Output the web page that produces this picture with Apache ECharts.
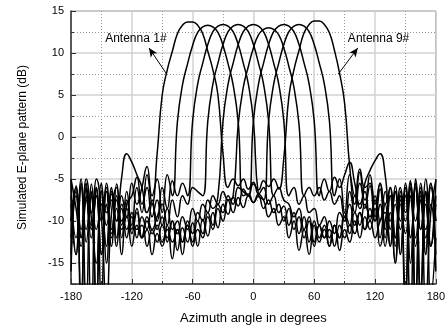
<!DOCTYPE html>
<html>
<head>
<meta charset="utf-8">
<script src="https://cdn.jsdelivr.net/npm/echarts@6/dist/echarts.min.js"></script>
<style>
  html, body { margin: 0; padding: 0; background: #fff; }
  #chart { width: 448px; height: 330px; }
</style>
</head>
<body>
<div id="chart"></div>
<script>
// azimuth sample points (degrees)
const angles = [
  -180, -175, -170, -165, -160, -155, -150, -145, -140, -135,
  -130, -125, -120, -115, -110, -105, -100, -95, -90, -85,
  -80, -75, -70, -65, -60, -55, -50, -45, -40, -35,
  -30, -25, -20, -15, -10, -5, 0, 5, 10, 15,
  20, 25, 30, 35, 40, 45, 50, 55, 60, 65,
  70, 75, 80, 85, 90, 95, 100, 105, 110, 115,
  120, 125, 130, 135, 140, 145, 150, 155, 160, 165,
  170, 175, 180
];

// simulated E-plane pattern (dB), one array per antenna
const ant1 = [
  -5.0, -8.5, -13, -7.5, -11, -6.0, -19, -8.0, -11.5, -7.0,
  -12, -6.5, -10.5, -6.0, -9.0, -4.5, -8.0, -2.0, 5.0, 8.0,
  10.2, 12.3, 13.3, 13.7, 13.7, 13.3, 12.3, 10.2, 8.0, 5.0,
  -2.0, -6.0, -5.0, -5.8, -5.0, -6.2, -5.4, -6.8, -6.0, -8.0,
  -7.0, -9.0, -8.2, -10.5, -9.0, -11.5, -9.5, -12.5, -10.0, -12.0,
  -10.5, -13.0, -10.5, -12.0, -9.0, -10.5, -7.0, -8.5, -5.5, -4.0,
  -2.8, -2.0, -4.5, -10, -6.5, -14, -6.0, -21, -5.5, -11,
  -5.0, -13, -5.0
];
const ant2 = [
  -10.0, -6.0, -12, -5.0, -9.5, -15, -6.5, -10.5, -7.5, -12,
  -7.0, -9.5, -5.5, -8.0, -6.0, -3.5, -7.0, -5.0, -9.0, -4.5,
  -7.0, 1.8, 6.2, 8.7, 10.9, 12.45, 13.1, 13.3, 13.1, 12.45,
  10.9, 8.7, 6.2, 1.8, -7.0, -6.8, -7.8, -7.0, -8.5, -7.5,
  -9.0, -8.0, -10.0, -8.5, -11.0, -9.5, -12.0, -10.0, -13.0, -10.5,
  -12.0, -10.0, -11.5, -9.0, -10.0, -6.5, -9.0, -5.5, -7.5, -4.5,
  -8.0, -5.5, -11, -6.0, -13, -6.5, -20, -7.0, -12, -5.5,
  -14, -6.0, -10.0
];
const ant3 = [
  -8.0, -14, -6.0, -11, -7.0, -20, -5.5, -9.0, -6.5, -13,
  -8.5, -11, -9.0, -12, -9.5, -11, -8.0, -10, -6.0, -8.5,
  -5.2, -7.0, -5.5, -7.0, 1.9, 6.3, 8.8, 11.0, 12.55, 13.2,
  13.4, 13.2, 12.55, 11.0, 8.8, 6.3, 1.9, -7.0, -7.5, -9.5,
  -8.5, -10.5, -9.5, -12, -10, -13.5, -11, -14, -10.5, -12.5,
  -11, -13, -10.5, -12, -9.5, -11.5, -9.0, -10.5, -8.0, -9.5,
  -7.0, -10.0, -6.5, -11, -5.8, -14, -7.0, -12, -5.0, -20,
  -6.5, -13, -8.0
];
const ant4 = [
  -14, -7.0, -11, -6.0, -9.0, -5.0, -9.5, -21, -9.0, -6.0,
  -10.5, -7.5, -11, -8.5, -12, -9.5, -11, -9.5, -8.0, -10.5,
  -7.5, -9.5, -7.0, -8.0, -6.0, -6.5, -7.0, 1.9, 6.3, 8.8,
  11.0, 12.55, 13.2, 13.4, 13.2, 12.55, 11.0, 8.8, 6.3, 1.9,
  -7.0, -6.0, -7.5, -8.0, -9.5, -8.5, -11.0, -9.5, -12.5, -10.5,
  -12.0, -11.0, -13.0, -10.5, -12.0, -10.5, -11.5, -9.0, -11.0, -8.5,
  -10, -8.0, -13, -9.0, -15, -7.0, -10, -6.0, -20, -7.5,
  -12, -5.5, -14
];
const ant5 = [
  -16, -6.5, -12, -7.0, -22, -6.0, -10, -5.5, -13, -8.5,
  -11, -9.5, -13, -10.5, -12, -11, -14, -11.5, -13, -10.5,
  -14.5, -11, -12.5, -10.0, -11.5, -9.0, -10.0, -7.5, -8.5, -7.0,
  1.9, 6.3, 8.8, 11.0, 12.55, 13.2, 13.4, 13.2, 12.55, 11.0,
  8.8, 6.3, 1.9, -7.0, -6.0, -8.0, -7.0, -9.0, -8.5, -10.5,
  -9.5, -12, -10.5, -13.5, -11, -12.5, -10, -12, -9.5, -11,
  -8.5, -13, -10, -7.0, -12, -6.0, -9.0, -5.5, -19, -6.5,
  -11, -8.0, -16
];
const ant6 = [
  -7.0, -12, -5.5, -20, -6.5, -11, -8.0, -15, -6.0, -10,
  -8.0, -12, -9.5, -11, -10.5, -13, -11, -12.5, -10.5, -12,
  -10.0, -11.5, -9.5, -11.0, -8.5, -10.0, -8.0, -9.0, -7.0, -8.0,
  -6.5, -7.5, -7.0, 1.5, 5.9, 8.4, 10.6, 12.15, 12.8, 13.0,
  12.8, 12.15, 10.6, 8.4, 5.9, 1.5, -7.0, -6.0, -7.0, -6.0,
  -7.5, -6.5, -8.0, -7.0, -9.5, -8.0, -10.5, -9.0, -11, -10,
  -12, -10, -9.0, -13, -8.0, -11, -6.0, -12, -5.5, -18,
  -8.0, -13, -7.0
];
const ant7 = [
  -12.0, -6.0, -19, -5.5, -10.5, -7.0, -14, -6.5, -12, -7.5,
  -10.0, -8.5, -11.5, -9.0, -12.0, -10.0, -11.5, -10.5, -12.5, -11,
  -12.5, -11, -14, -10.5, -12.5, -10.0, -11.5, -9.0, -10.5, -8.0,
  -9.0, -7.0, -8.0, -6.0, -6.5, -7.0, 1.9, 6.3, 8.8, 11.0,
  12.55, 13.2, 13.4, 13.2, 12.55, 11.0, 8.8, 6.3, 1.9, -7.0,
  -5.0, -6.5, -4.8, -6.0, -4.5, -3.0, -5.5, -8.0, -6.5, -10,
  -7.5, -12, -8.0, -13, -6.5, -10, -5.5, -15, -6.0, -11,
  -6.5, -19, -12.0
];
const ant8 = [
  -10.0, -5.8, -21, -6.2, -12, -7.0, -14, -6.0, -11, -5.6,
  -14, -8.0, -7.0, -4.8, -8.0, -6.0, -9.5, -7.5, -10.5, -8.5,
  -11.0, -10.0, -12.5, -10.5, -13.0, -11.0, -12.0, -9.5, -11.0, -8.5,
  -10.0, -7.5, -9.0, -7.2, -8.4, -7.0, -7.8, -6.8, -7.5, 1.9,
  6.3, 8.8, 11.0, 12.55, 13.2, 13.4, 13.2, 12.55, 11.0, 8.8,
  6.3, 1.9, -7.0, -5.0, -9.0, -4.5, -7.0, -3.8, -6.0, -5.5,
  -9.5, -5.5, -8.0, -6.0, -12, -7.5, -18, -5.2, -10, -6.0,
  -14, -5.5, -10.0
];
const ant9 = [
  -5.2, -14, -5.0, -12.5, -5.6, -20, -6.4, -13, -6.8, -10,
  -4.8, -2.0, -3.0, -4.5, -6.0, -9.0, -7.5, -11, -9.5, -12.5,
  -10.0, -13.5, -10.8, -12.5, -10.2, -13, -9.8, -11.8, -9.0, -10.8,
  -8.0, -9.2, -7.2, -8.2, -6.2, -7.0, -5.6, -6.3, -5.2, -5.9,
  -5.0, -6.2, -2.5, 4.8, 8.0, 10.3, 12.4, 13.4, 13.8, 13.8,
  13.4, 12.4, 10.3, 7.6, 4.0, -3.5, -8.0, -4.2, -8.5, -5.8,
  -10, -6.2, -12, -7.0, -15, -8.0, -11.5, -6.2, -13, -7.0,
  -20, -9.0, -5.2
];
const antennas = [ant1, ant2, ant3, ant4, ant5, ant6, ant7, ant8, ant9];

// axis ticks
const xTicks = [-180, -120, -60, 0, 60, 120, 180];
const yRange = [-17.5, 15];

// annotations: label position, arrow start (on beam) and arrow tip, in data units
const note1 = { text: 'Antenna 1#', at: [-116, 11.7], from: [-85.6, 7.5], to: [-103, 10.6] };
const note9 = { text: 'Antenna 9#', at: [123.5, 11.7], from: [83.8, 7.5], to: [103, 10.6] };

const FONT = 'Liberation Sans, Arial, sans-serif';

function noteMarks(note) {
  return {
    markLine: {
      silent: true,
      symbol: ['none', 'arrow'],
      symbolSize: [6, 9],
      lineStyle: { color: '#000', width: 1, type: 'solid' },
      label: { show: false },
      data: [[{ coord: note.from }, { coord: note.to }]]
    },
    markPoint: {
      silent: true,
      symbol: 'circle',
      symbolSize: 1,
      itemStyle: { color: 'rgba(0,0,0,0)' },
      label: {
        show: true, position: 'inside', formatter: note.text,
        color: '#000', fontSize: 12, fontFamily: FONT
      },
      data: [{ coord: note.at }]
    }
  };
}

const series = antennas.map(function (vals, i) {
  let s = {
    name: 'Antenna ' + (i + 1) + '#',
    type: 'line',
    data: vals.map(function (v, k) { return [angles[k], v]; }),
    showSymbol: false,
    smooth: 0.5,
    clip: true,
    lineStyle: { color: '#000', width: 1.5 },
    animation: false
  };
  if (i === 0) Object.assign(s, noteMarks(note1));
  if (i === 8) Object.assign(s, noteMarks(note9));
  return s;
});

let myChart = echarts.init(document.getElementById('chart'));
let option = {
  animation: false,
  backgroundColor: '#fff',
  grid: {
    left: 71, right: 7, top: 11, bottom: 46,
    show: true, borderColor: '#666', borderWidth: 1
  },
  xAxis: {
    type: 'value',
    min: xTicks[0],
    max: xTicks[xTicks.length - 1],
    interval: 60,
    name: 'Azimuth angle in degrees',
    nameLocation: 'middle',
    nameGap: 28,
    nameTextStyle: { color: '#000', fontSize: 13, fontFamily: FONT },
    axisLine: { onZero: false, lineStyle: { color: '#333', width: 1.5 } },
    axisTick: { inside: true, length: 5, lineStyle: { color: '#333' } },
    minorTick: { show: true, splitNumber: 2, length: 3, lineStyle: { color: '#333' } },
    axisLabel: { color: '#000', fontSize: 11, fontFamily: FONT, margin: 7 },
    splitLine: { show: true, lineStyle: { color: '#d2d2d2', width: 1.5 } },
    minorSplitLine: { show: true, lineStyle: { color: '#9a9a9a', width: 1, type: [1, 2] } }
  },
  yAxis: {
    type: 'value',
    min: yRange[0],
    max: yRange[1],
    splitNumber: 5,
    name: 'Simulated E-plane pattern (dB)',
    nameLocation: 'middle',
    nameGap: 42,
    nameTextStyle: { color: '#000', fontSize: 12, fontFamily: FONT },
    axisLine: { onZero: false, lineStyle: { color: '#333', width: 1.5 } },
    axisTick: { inside: true, length: 5, lineStyle: { color: '#333' } },
    minorTick: { show: true, splitNumber: 2, length: 3, lineStyle: { color: '#333' } },
    axisLabel: {
      color: '#000', fontSize: 11, fontFamily: FONT, margin: 7,
      showMinLabel: false,
      formatter: function (v) { return v % 5 === 0 ? String(v) : ''; }
    },
    splitLine: { show: true, lineStyle: { color: '#d2d2d2', width: 1.5 } },
    minorSplitLine: { show: true, lineStyle: { color: '#9a9a9a', width: 1, type: [1, 2] } }
  },
  series: series
};
myChart.setOption(option);
</script>
</body>
</html>
